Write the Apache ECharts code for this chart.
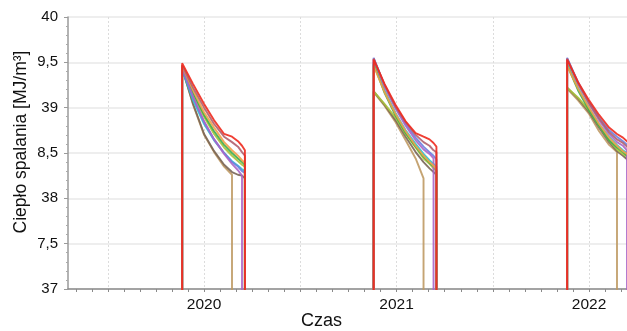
<!DOCTYPE html>
<html>
<head>
<meta charset="utf-8">
<script src="https://cdn.jsdelivr.net/npm/echarts@6/dist/echarts.min.js"></script>
<style>html,body{margin:0;padding:0;background:#fff}#c{width:627px;height:331px}</style>
</head>
<body>
<div id="c"></div>
<script>
// ---- data ----
const seasonTimes = [
  [2019.886, 2019.943, 2020.000, 2020.052, 2020.104, 2020.145, 2020.176, 2020.197, 2020.212],
  [2020.881, 2020.938, 2020.995, 2021.047, 2021.099, 2021.140, 2021.171, 2021.192, 2021.207],
  [2021.886, 2021.943, 2022.000, 2022.052, 2022.104, 2022.145, 2022.176, 2022.197, 2022.212]
];
const offScale = 36; // value outside the plotted range between heating seasons

const tan = [
  [39.44, 39.03, 38.70, 38.51, 38.35, 38.26],
  [39.17, 39.02, 38.84, 38.64, 38.44, 38.22],
  [39.21, 39.08, 38.93, 38.74, 38.59, 38.51]
];
const dark = [
  [39.43, 39.04, 38.71, 38.52, 38.37, 38.29, 38.26, 38.25, 38.22],
  [39.18, 39.03, 38.86, 38.68, 38.51, 38.40, 38.33, 38.29, 38.26],
  [39.22, 39.10, 38.95, 38.78, 38.62, 38.52, 38.47, 38.43, 38.40]
];
const yellowGreen = [
  [39.45, 39.14, 38.90, 38.71, 38.56, 38.47, 38.41, 38.37, 38.35],
  [39.18, 39.04, 38.89, 38.71, 38.56, 38.44, 38.38, 38.33, 38.30],
  [39.22, 39.11, 38.97, 38.80, 38.64, 38.54, 38.49, 38.46, 38.42]
];
const cyan = [
  [39.42, 39.08, 38.82, 38.64, 38.50, 38.41, 38.36, 38.32, 38.30],
  [39.50, 39.19, 38.94, 38.75, 38.60, 38.49, 38.42, 38.38, 38.35],
  [39.49, 39.22, 39.00, 38.82, 38.68, 38.59, 38.53, 38.50, 38.47]
];
const blue = [
  [39.43, 39.11, 38.84, 38.65, 38.50, 38.40, 38.35, 38.30, 38.28],
  [39.55, 39.24, 39.00, 38.82, 38.67, 38.57, 38.51, 38.47, 38.43],
  [39.55, 39.28, 39.06, 38.89, 38.75, 38.68, 38.63, 38.59, 38.56]
];
const green = [
  [39.45, 39.16, 38.92, 38.74, 38.59, 38.50, 38.44, 38.40, 38.37],
  [39.48, 39.16, 38.91, 38.72, 38.57, 38.46, 38.39, 38.35, 38.31],
  [39.47, 39.19, 38.97, 38.80, 38.64, 38.56, 38.51, 38.47, 38.43]
];
const purple = [
  [39.44, 39.12, 38.85, 38.65, 38.49, 38.38, 38.31, 38.25],
  [39.54, 39.23, 38.99, 38.80, 38.64, 38.54, 38.49, 38.44],
  [39.54, 39.26, 39.04, 38.86, 38.71, 38.62, 38.58, 38.53]
];
const orange = [
  [39.46, 39.19, 38.95, 38.78, 38.62, 38.53, 38.47, 38.42, 38.39],
  [39.46, 39.17, 38.93, 38.74, 38.58, 38.47, 38.40, 38.36, 38.32],
  [39.46, 39.21, 39.00, 38.82, 38.67, 38.58, 38.52, 38.49, 38.46]
];
const mauve = [
  [39.47, 39.22, 39.00, 38.82, 38.68, 38.62, 38.57, 38.51, 38.47],
  [39.54, 39.25, 39.01, 38.84, 38.70, 38.62, 38.58, 38.53, 38.51],
  [39.54, 39.27, 39.05, 38.88, 38.73, 38.65, 38.61, 38.57, 38.53]
];
const red = [
  [39.49, 39.26, 39.04, 38.86, 38.71, 38.68, 38.63, 38.58, 38.53],
  [39.53, 39.26, 39.03, 38.85, 38.72, 38.68, 38.65, 38.61, 38.57],
  [39.53, 39.28, 39.08, 38.92, 38.78, 38.71, 38.67, 38.63, 38.60]
];

const seriesList = [
  ['tan', tan, '#bf9a64'],
  ['dark', dark, '#7a6656'],
  ['yellowGreen', yellowGreen, '#a9c23a'],
  ['cyan', cyan, '#2bc3d3'],
  ['blue', blue, '#6a7fe0'],
  ['green', green, '#3cae4a'],
  ['purple', purple, '#a866c8'],
  ['orange', orange, '#f0a04a'],
  ['mauve', mauve, '#b0606e'],
  ['red', red, '#ee2a1e']
];

const yearLabels = [2020, 2021, 2022];
const halfYearLines = [2019.5, 2020, 2020.5, 2021, 2021.5, 2022];
const yLabelText = ['37', '7,5', '38', '8,5', '39', '9,5', '40'];
const xMin = 2019.293, xMax = 2022.197;

// ---- build ----
const monthTicks = [];
for (let m = Math.ceil(xMin * 12); m <= Math.floor(xMax * 12); m++) monthTicks.push(m / 12);

function buildData(seasons) {
  const out = [];
  seasons.forEach((vals, s) => {
    const t = seasonTimes[s];
    out.push([t[0], offScale]);
    vals.forEach((v, i) => out.push([t[i], v]));
    out.push([t[vals.length - 1], offScale]);
  });
  return out;
}

const chart = echarts.init(document.getElementById('c'), null, {renderer: 'canvas'});
chart.setOption({
  animation: false,
  backgroundColor: '#fff',
  grid: {left: 68, right: 0, top: 17, bottom: 42, containLabel: false, outerBoundsMode: 'none'},
  xAxis: [{
    type: 'value', min: xMin, max: xMax, position: 'bottom',
    axisLine: {lineStyle: {color: '#8a8a8a', width: 1.5}},
    axisTick: {show: true, customValues: monthTicks, length: 3, lineStyle: {color: '#8a8a8a'}},
    axisLabel: {customValues: yearLabels, formatter: v => String(Math.round(v)), color: '#111', fontSize: 15.5, margin: 8, fontFamily: 'Liberation Sans'},
    splitLine: {show: false},
    name: 'Czas', nameLocation: 'middle', nameGap: 23, nameMoveOverlap: false,
    nameTextStyle: {fontSize: 18, color: '#111', fontFamily: 'Liberation Sans', verticalAlign: 'top', padding: [0, 52, 0, 0]}
  }, {
    type: 'value', min: xMin, max: xMax, position: 'bottom',
    axisLine: {show: false},
    axisTick: {show: false, customValues: halfYearLines},
    axisLabel: {show: false},
    splitLine: {show: true, lineStyle: {color: '#dcdcdc', width: 1, type: [2, 2]}}
  }],
  yAxis: {
    type: 'value', min: 37, max: 40, interval: 0.5,
    axisLine: {show: true, lineStyle: {color: '#9a9a9a', width: 1.5}},
    axisTick: {show: true, length: 4, lineStyle: {color: '#9a9a9a'}},
    minorTick: {show: true, splitNumber: 5, length: 2, lineStyle: {color: '#aaa'}},
    axisLabel: {formatter: v => yLabelText[Math.round((v - 37) / 0.5)], color: '#111', fontSize: 15, margin: 10, fontFamily: 'Liberation Sans'},
    splitLine: {show: true, lineStyle: {color: '#e8e8e8', width: 1.5}},
    name: 'Ciepło spalania [MJ/m³]', nameLocation: 'middle', nameGap: 38, nameRotate: 90, nameMoveOverlap: false,
    nameTextStyle: {fontSize: 17.5, color: '#111', fontFamily: 'Liberation Sans', padding: [0, 0, 0, 22]}
  },
  series: seriesList.map(([name, vals, color]) => ({
    name, type: 'line', xAxisIndex: 0, data: buildData(vals),
    showSymbol: false, symbol: 'none', clip: true,
    lineStyle: {color, width: 1.9, opacity: 0.9}
  }))
});
</script>
</body>
</html>
